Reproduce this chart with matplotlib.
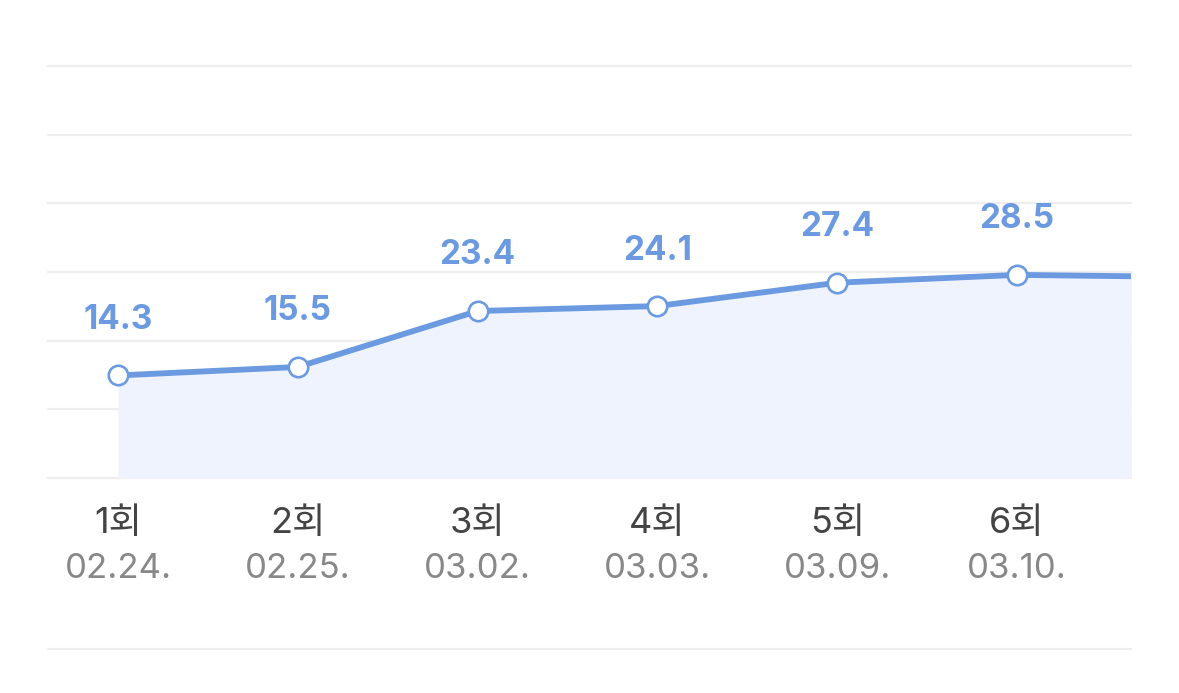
import matplotlib
matplotlib.use("Agg")
import matplotlib.pyplot as plt
from matplotlib.lines import Line2D
import numpy as np

# ---- data ----
rounds = ["1회", "2회", "3회", "4회", "5회", "6회"]
dates = ["02.24.", "02.25.", "03.02.", "03.03.", "03.09.", "03.10."]
values = [14.3, 15.5, 23.4, 24.1, 27.4, 28.5, 28.2]   # 7th point is cut off at the right edge

LINE = "#6B9AE0"
FILL = "#EEF3FD"
GRID = "#EEEEEE"

W, H = 1179, 693
fig = plt.figure(figsize=(W / 100, H / 100), dpi=100)
fig.patch.set_facecolor("white")

left, right, top, bottom = 48, 1131, 66, 478
ax = fig.add_axes([left / W, 1 - bottom / H, (right - left) / W, (bottom - top) / H])
ax.set_facecolor("white")

x = np.arange(len(values))
ylo, yhi = -0.18, 58.0
ax.set_xlim(-0.389, 5.634)
ax.set_ylim(ylo, yhi)

for gy in np.linspace(ylo, yhi, 7):
    ax.axhline(gy, color=GRID, lw=1.6, zorder=0, clip_on=False)

ax.fill_between(x, values, ylo, color=FILL, zorder=1, lw=0)
ax.plot(x, values, color=LINE, lw=4.2, zorder=3, solid_capstyle="butt",
        marker="o", markersize=14, markerfacecolor="white",
        markeredgecolor=LINE, markeredgewidth=1.9)

lab_font = ["Inter", "Noto Sans CJK KR", "DejaVu Sans"]
for xi, v in zip(x[:len(rounds)], values[:len(rounds)]):
    ax.annotate(f"{v:.1f}", (xi, v), xytext=(0, 40), textcoords="offset points",
                ha="center", va="center", fontsize=24, fontweight="bold",
                color=LINE, family=lab_font)

tr = ax.get_xaxis_transform()
for xi, r, d in zip(x, rounds, dates):
    ax.text(xi, (bottom - 523) / (bottom - top), r, transform=tr, ha="center", va="center",
            fontsize=26, color="#444444", family=lab_font, clip_on=False)
    ax.text(xi, (bottom - 569) / (bottom - top), d, transform=tr, ha="center", va="center",
            fontsize=25, color="#888888", family=lab_font, clip_on=False)

for s in ax.spines.values():
    s.set_visible(False)
ax.set_xticks([])
ax.set_yticks([])

fig.add_artist(Line2D([left / W, right / W], [1 - 649 / H, 1 - 649 / H],
                      color=GRID, lw=1.6, transform=fig.transFigure))

fig.savefig("out.png", dpi=100, facecolor="white")
